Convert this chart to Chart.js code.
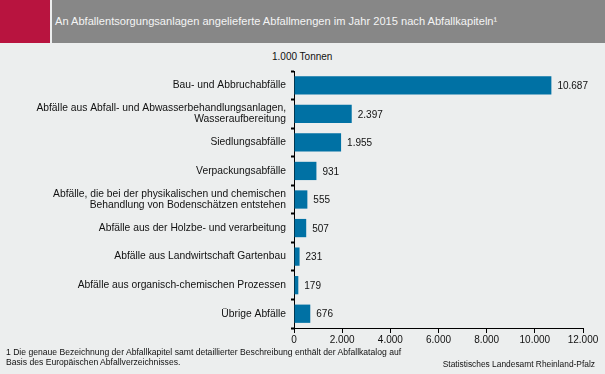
<!DOCTYPE html>
<html>
<head>
<meta charset="utf-8">
<script src="https://cdn.jsdelivr.net/npm/chart.js@4"></script>
<style>
  html, body { margin:0; padding:0; background:#eceeee; width:605px; height:374px; overflow:hidden; font-family:"Liberation Sans", Arial, sans-serif; }
  #red { position:absolute; left:0; top:0; width:50px; height:43px; background:#b8143f; }
  #gray { position:absolute; left:52px; top:0; width:553px; height:43px; background:#878787; }
  #title { position:absolute; left:55px; top:15px; font-size:11.1px; color:#f4f4f4; white-space:nowrap; }
  #unit { position:absolute; left:272px; top:51px; font-size:10px; color:#111; white-space:nowrap; }
  #note { position:absolute; left:6px; top:348px; font-size:8.6px; line-height:9.5px; color:#111; white-space:nowrap; }
  #src { position:absolute; right:10px; top:359px; font-size:8.4px; color:#111; white-space:nowrap; }
  canvas { position:absolute; left:0; top:0; }
</style>
</head>
<body>
<div id="red"></div>
<div id="gray"></div>
<div id="title">An Abfallentsorgungsanlagen angelieferte Abfallmengen im Jahr 2015 nach Abfallkapiteln¹</div>
<div id="unit">1.000 Tonnen</div>
<canvas id="c" width="605" height="374"></canvas>
<div id="note">1 Die genaue Bezeichnung der Abfallkapitel samt detaillierter Beschreibung enthält der Abfallkatalog auf<br>Basis des Europäischen Abfallverzeichnisses.</div>
<div id="src">Statistisches Landesamt Rheinland-Pfalz</div>
<script>
const categories = [
  ["Bau- und Abbruchabfälle"],
  ["Abfälle aus Abfall- und Abwasserbehandlungsanlagen,", "Wasseraufbereitung"],
  ["Siedlungsabfälle"],
  ["Verpackungsabfälle"],
  ["Abfälle, die bei der physikalischen und chemischen", "Behandlung von Bodenschätzen entstehen"],
  ["Abfälle aus der Holzbe- und verarbeitung"],
  ["Abfälle aus Landwirtschaft Gartenbau"],
  ["Abfälle aus organisch-chemischen Prozessen"],
  ["Übrige Abfälle"]
];
const values = [10687, 2397, 1955, 931, 555, 507, 231, 179, 676];
const xTicks = [0, 2000, 4000, 6000, 8000, 10000, 12000];

function fmt(n) {
  return String(Math.round(n)).replace(/\B(?=(\d{3})+(?!\d))/g, ".");
}

const FONT = '"Liberation Sans", Arial, sans-serif';

const valueLabels = {
  id: 'valueLabels',
  afterDatasetsDraw(chart) {
    const ctx = chart.ctx;
    const meta = chart.getDatasetMeta(0);
    ctx.save();
    ctx.font = '10px ' + FONT;
    ctx.fillStyle = '#111';
    ctx.textAlign = 'left';
    ctx.textBaseline = 'middle';
    meta.data.forEach((bar, i) => {
      ctx.fillText(fmt(values[i]), bar.x + 6, bar.y + 1);
    });
    ctx.restore();
  }
};

new Chart(document.getElementById('c'), {
  type: 'bar',
  data: {
    labels: categories,
    datasets: [{
      data: values,
      backgroundColor: '#0071a4',
      borderWidth: 0,
      categoryPercentage: 1,
      barPercentage: 0.64
    }]
  },
  options: {
    indexAxis: 'y',
    responsive: false,
    animation: false,
    devicePixelRatio: 1,
    layout: { padding: { top: 71, right: 22, bottom: 0, left: 0 } },
    plugins: { legend: { display: false }, tooltip: { enabled: false }, title: { display: false } },
    scales: {
      x: {
        min: 0, max: 12000,
        afterBuildTicks(scale) { scale.ticks = xTicks.map(v => ({ value: v })); },
        afterFit(scale) { scale.height = 46; },
        border: { display: true, color: '#000', width: 1 },
        grid: { drawOnChartArea: false, drawTicks: true, tickLength: 5, color: '#000', tickColor: '#000' },
        ticks: { padding: 1, color: '#111', font: { family: FONT, size: 10 }, maxRotation: 0, callback: v => fmt(v) }
      },
      y: {
        afterFit(scale) { scale.width = 294; },
        border: { display: true, color: '#000', width: 1 },
        grid: { offset: true, drawOnChartArea: false, drawTicks: true, tickLength: 3, tickWidth: 2, tickColor: '#000' },
        ticks: { padding: 5, color: '#111', font: { family: FONT, size: 10.3, lineHeight: 1.07 } }
      }
    }
  },
  plugins: [valueLabels]
});
</script>
</body>
</html>
